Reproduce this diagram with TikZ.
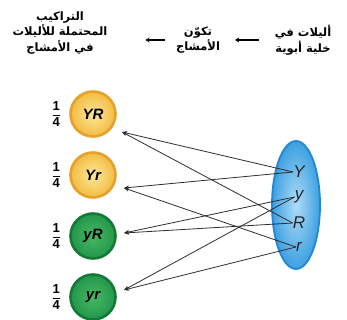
\documentclass[tikz,border=0pt]{standalone}
\usepackage{amsmath}
\usepackage{fontspec}
\setmainfont{Liberation Sans}
\newfontfamily\arabicfont[Script=Arabic]{DejaVu Sans}
\TeXXeTstate=1
\usetikzlibrary{arrows.meta,positioning,calc,shapes.geometric}
\definecolor{domyel}{RGB}{242,188,65}
\definecolor{domyelin}{RGB}{253,232,155}
\definecolor{domyelrim}{RGB}{230,160,45}
\definecolor{recgrn}{RGB}{36,150,75}
\definecolor{recgrnin}{RGB}{70,185,100}
\definecolor{recgrnrim}{RGB}{20,120,55}
\definecolor{cellblue}{RGB}{60,160,225}
\definecolor{cellbluein}{RGB}{175,220,248}
\definecolor{cellrim}{RGB}{35,135,210}
\definecolor{wire}{RGB}{45,45,45}
\newcommand{\Rtl}[1]{\beginR #1\endR}

\begin{document}
\begin{tikzpicture}[x=1pt,y=-1pt,
    hdr/.style={font=\arabicfont\fontsize{11.5}{15.5}\selectfont\bfseries, align=center, inner sep=0pt},
    gyel/.style={circle, minimum size=45pt, inner sep=0pt, draw=domyelrim, line width=2.6pt,
      inner color=domyelin, outer color=domyel, font=\fontsize{15}{15}\selectfont\bfseries\itshape},
    ggrn/.style={circle, minimum size=45pt, inner sep=0pt, draw=recgrnrim, line width=2.6pt,
      inner color=recgrnin, outer color=recgrn, font=\fontsize{15}{15}\selectfont\bfseries\itshape},
    frc/.style={font=\fontsize{13}{13}\selectfont, inner sep=0pt},
    allel/.style={font=\fontsize{17}{17}\selectfont\itshape, inner sep=0pt, text=black!85},
    garr/.style={draw=wire, line width=0.8pt, -{Stealth[length=5pt,width=4pt]}},
    harr/.style={draw=black, line width=1.2pt, -{Stealth[length=4pt,width=5pt]}}]
    \useasboundingbox (0,0) rectangle (347,320);
    \node[hdr] (hPar) at (303,40) {\Rtl{أليلات في}\\\Rtl{خلية أبوية}};
    \node[hdr] (hForm) at (198,40) {\Rtl{تكوّن}\\\Rtl{الأمشاج}};
    \node[hdr] (hComb) at (60,33) {\Rtl{التراكيب}\\\Rtl{المحتملة للأليلات}\\\Rtl{في الأمشاج}};
    \draw[harr, shorten <=16pt, shorten >=15pt] (hPar.west) -- (hPar.west -| hForm.east);
    \draw[harr, shorten <=11pt, shorten >=38pt] (hForm.west) -- (hForm.west -| hComb.east);

    \node[gyel] (gYR) at (93,114) {YR};
    \node[gyel] (gYr) at (93,175) {Yr};
    \node[ggrn] (gyR) at (93,236) {yR};
    \node[ggrn] (gyr) at (93,297) {yr};
    \foreach \g in {gYR,gYr,gyR,gyr}
      \node[frc, left=8pt of \g] {$\dfrac{\textbf{1}}{\textbf{4}}$};

    \node[ellipse, minimum width=48pt, minimum height=128pt, draw=cellrim, line width=1.8pt,
      inner color=cellbluein, outer color=cellblue] (cell) at (296,205) {};
    \node[allel] (aY) at (299,172) {Y};
    \node[allel] (ay) at (299,197) {y};
    \node[allel] (aR) at (299,223) {R};
    \node[allel] (ar) at (299,247) {r};

    \coordinate (tYR) at ([shift={(29,18)}]gYR.center);
    \coordinate (tYr) at ([shift={(31,13)}]gYr.center);
    \coordinate (tyR) at ([shift={(31,-3)}]gyR.center);
    \coordinate (tyr) at ([shift={(31,-7)}]gyr.center);
    \draw[garr] (aY.west) -- (tYR);
    \draw[garr] (aY.west) -- (tYr);
    \draw[garr] (ay.west) -- (tyR);
    \draw[garr] (ay.west) -- (tyr);
    \draw[garr] (aR.west) -- (tYR);
    \draw[garr] (aR.west) -- (tyR);
    \draw[garr] (ar.west) -- (tYr);
    \draw[garr] (ar.west) -- (tyr);
\end{tikzpicture}
\end{document}
